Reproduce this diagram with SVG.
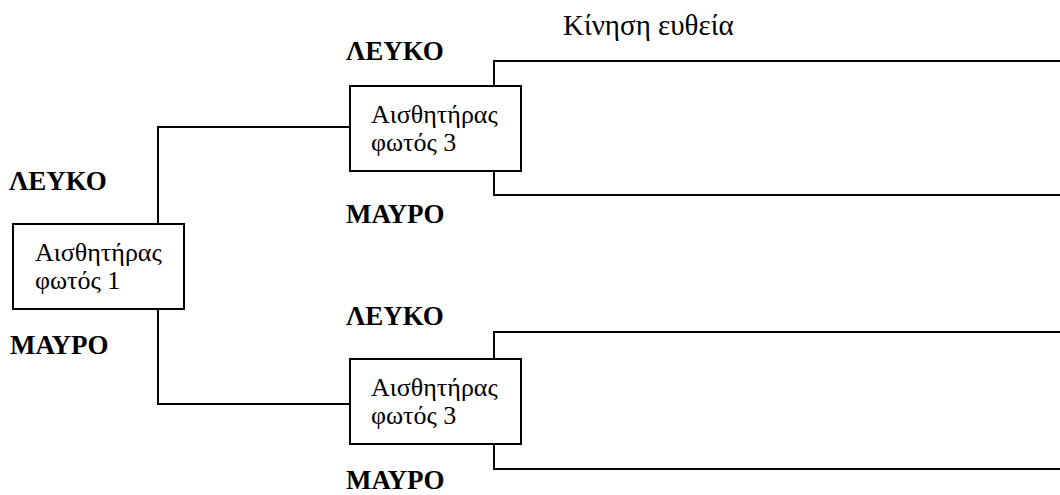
<svg xmlns="http://www.w3.org/2000/svg" width="1060" height="495" viewBox="0 0 1060 495">
<style>
.box{fill:#fff;stroke:#000;stroke-width:2}
.ln{fill:none;stroke:#000;stroke-width:2}
.t{font-family:"Liberation Serif","DejaVu Serif",serif;font-size:26px;fill:#000}
.k{font-family:"Liberation Serif","DejaVu Serif",serif;font-size:29px;fill:#000}
.b{font-family:"Liberation Serif","DejaVu Serif",serif;font-size:27px;font-weight:bold;fill:#000}
</style>
<rect width="1060" height="495" fill="#fff"/>
<g id="connectors">
<polyline class="ln" points="350,127 158,127 158,224"/>
<polyline class="ln" points="158,309 158,404 350,404"/>
<polyline class="ln" points="494,86 494,61 1060,61"/>
<polyline class="ln" points="494,171 494,195 1060,195"/>
<polyline class="ln" points="494,359 494,332 1060,332"/>
<polyline class="ln" points="494,444 494,469 1060,469"/>
</g>
<g id="sensor1">
<rect class="box" x="13" y="224" width="171" height="85"/>
<text class="t" x="35" y="261">Αισθητήρας</text>
<text class="t" x="35" y="289">φωτός 1</text>
</g>
<g id="sensor3top">
<rect class="box" x="350" y="86" width="171" height="85"/>
<text class="t" x="371" y="123">Αισθητήρας</text>
<text class="t" x="371" y="151">φωτός 3</text>
</g>
<g id="sensor3bottom">
<rect class="box" x="350" y="359" width="171" height="85"/>
<text class="t" x="371" y="396">Αισθητήρας</text>
<text class="t" x="371" y="424">φωτός 3</text>
</g>
<g id="labels">
<text class="k" x="563" y="35">Κίνηση ευθεία</text>
<text class="b" x="346" y="60">ΛΕΥΚΟ</text>
<text class="b" x="346" y="223">ΜΑΥΡΟ</text>
<text class="b" x="9" y="190">ΛΕΥΚΟ</text>
<text class="b" x="10" y="354">ΜΑΥΡΟ</text>
<text class="b" x="346" y="325">ΛΕΥΚΟ</text>
<text class="b" x="346" y="489">ΜΑΥΡΟ</text>
</g>
</svg>
